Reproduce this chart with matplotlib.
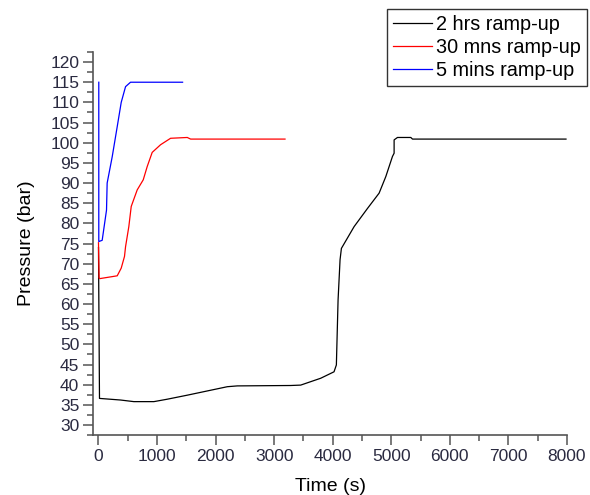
import numpy as np
import matplotlib.pyplot as plt
from matplotlib.ticker import MultipleLocator

plt.rcParams['font.family'] = ['Liberation Sans', 'DejaVu Sans']

# 2 hrs ramp-up
t_2h = [0, 17, 376, 604, 946, 1174, 1516, 1972, 2200, 2370, 3282, 3453, 3795,
        4022, 4062, 4091, 4125, 4148, 4365, 4593, 4792, 4906, 5020, 5048, 5048,
        5105, 5333, 5362, 7983]
p_2h = [74, 36.6, 36.2, 35.8, 35.8, 36.4, 37.4, 38.8, 39.5, 39.7, 39.8, 39.9, 41.6,
        43.2, 44.9, 61, 71, 73.8, 79.2, 83.7, 87.5, 91.6, 96.6, 97.4, 100.7,
        101.3, 101.3, 100.9, 100.9]

# 30 mns ramp-up
t_30m = [0, 10, 22, 320, 388, 444, 462, 518, 559, 661, 764, 832, 917, 1060,
         1231, 1516, 1573, 3185]
p_30m = [75.2, 66.5, 66.3, 67, 68.9, 71.8, 74.2, 79.2, 84.2, 88.3, 90.8, 94.1,
         97.6, 99.5, 101.1, 101.3, 100.9, 100.9]

# 5 mins ramp-up
t_5m = [5, 5, 63, 137, 148, 234, 320, 388, 462, 547, 1436]
p_5m = [115, 75.5, 75.8, 83.3, 90, 96.5, 104, 110, 113.9, 115, 115]

fig = plt.figure(figsize=(5.9, 4.95), dpi=100)
ax = fig.add_axes([0.158, 0.121, 0.803, 0.774])

ax.plot(t_2h, p_2h, color='black', lw=0.9, label='2 hrs ramp-up')
ax.plot(t_30m, p_30m, color='red', lw=0.9, label='30 mns ramp-up')
ax.plot(t_5m, p_5m, color='blue', lw=0.9, label='5 mins ramp-up')

ax.set_xlim(-90, 8000)
ax.set_ylim(27.5, 122.5)
ax.xaxis.set_major_locator(MultipleLocator(1000))
ax.xaxis.set_minor_locator(MultipleLocator(500))
ax.yaxis.set_major_locator(MultipleLocator(5))
ax.yaxis.set_minor_locator(MultipleLocator(2.5))

for s in ['top', 'right']:
    ax.spines[s].set_visible(False)
for s in ['left', 'bottom']:
    ax.spines[s].set_color('#555555')
    ax.spines[s].set_linewidth(1.2)

ax.tick_params(which='major', length=7, width=1.1, color='#555555',
               labelsize=12.5, labelcolor='#2a2a40', pad=3)
ax.tick_params(which='minor', length=4, width=1.1, color='#555555')

ax.set_xlabel('Time (s)', fontsize=14, labelpad=10)
ax.set_ylabel('Pressure (bar)', fontsize=14, labelpad=11)

leg = fig.legend(loc='upper right', bbox_to_anchor=(0.995, 0.982), fontsize=14.3,
                 frameon=True, fancybox=False, edgecolor='black',
                 handlelength=2.0, handletextpad=0.2, borderpad=0.3,
                 borderaxespad=0, labelspacing=0.2)
leg.get_frame().set_linewidth(1.0)

fig.savefig('out.png', dpi=100)
